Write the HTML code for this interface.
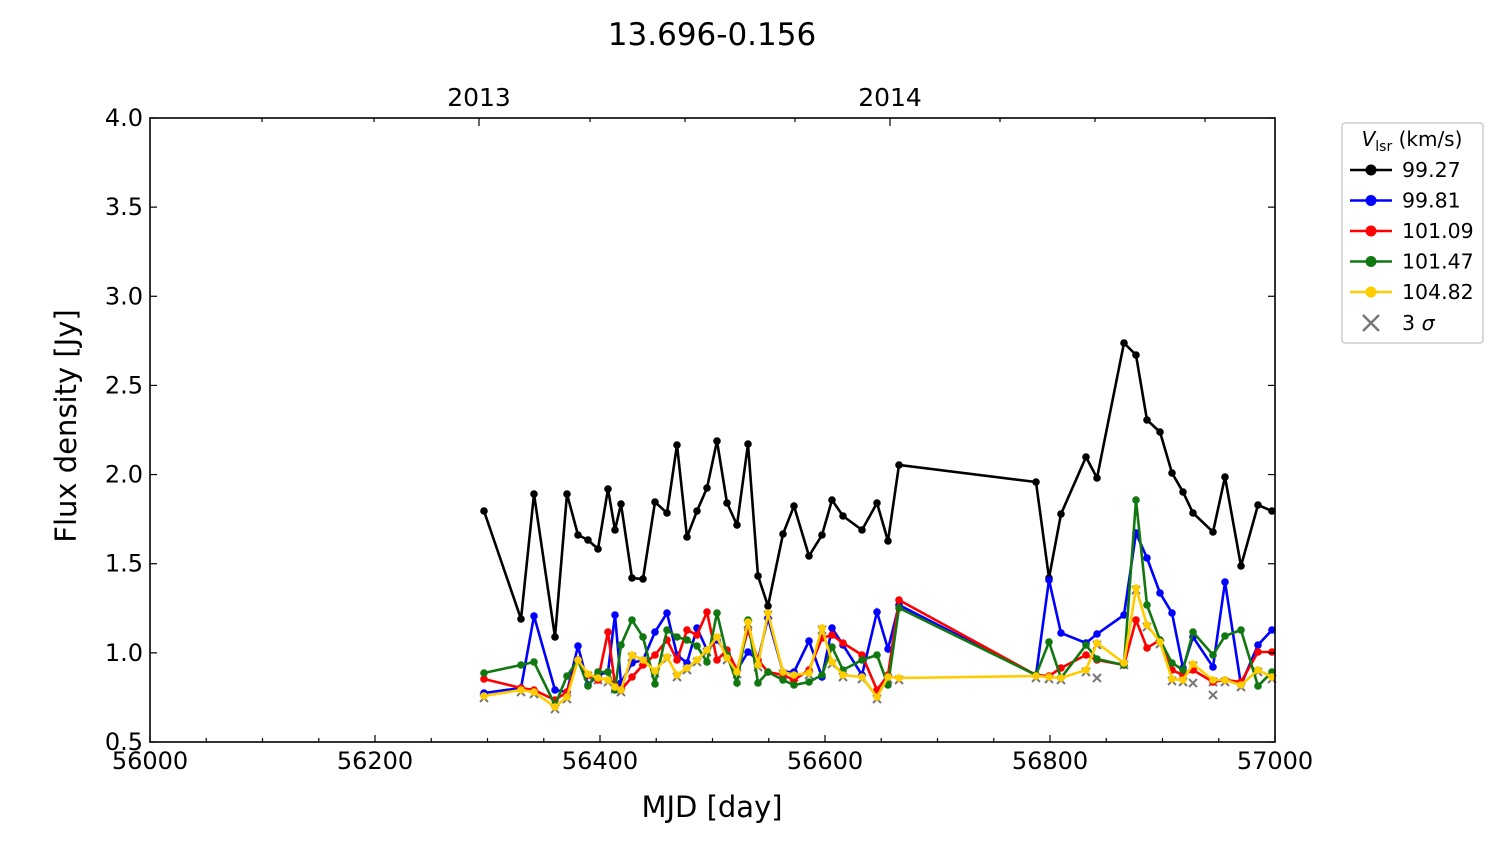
<!DOCTYPE html>
<html><head><meta charset="utf-8"><style>
body{margin:0;background:#fff;}
svg{display:block;font-family:"DejaVu Sans","Liberation Sans",sans-serif;}
</style></head><body>
<svg width="1500" height="844" xmlns="http://www.w3.org/2000/svg" id="s">
<rect width="1500" height="844" fill="#fff"/>
<text x="712" y="45" font-size="31" text-anchor="middle">13.696-0.156</text>
<g id="plot"></g>
<rect x="150" y="118" width="1125" height="624" fill="none" stroke="#000" stroke-width="1.6"/>
<g id="ticks" stroke="#000" stroke-width="1.2"></g>
<g id="labels" font-size="24"></g>
<text x="712" y="817" font-size="29" text-anchor="middle">MJD [day]</text>
<text transform="translate(76,426) rotate(-90)" font-size="29" text-anchor="middle">Flux density [Jy]</text>
<text x="479" y="106" font-size="25" text-anchor="middle">2013</text>
<text x="890" y="106" font-size="25" text-anchor="middle">2014</text>
<g>
<rect x="1342" y="123" width="141" height="220" fill="#fff" stroke="#ccc" stroke-width="1.5" rx="3"/>
<text x="1412" y="146" font-size="20" text-anchor="middle"><tspan font-style="italic">V</tspan><tspan font-size="14" dy="5">lsr</tspan><tspan dy="-5"> (km/s)</tspan></text>
<g font-size="20.5" id="leg"></g>
</g>
</svg>
<script>
const xs=[484,521,534,555,567,578,588,598,608,615,621,632,643,655,667,677,687,697,707,717,727,737,748,758,768,783,794,809,822,832,843,862,877,888,899,1036,1049,1061,1086,1097,1124,1136,1147,1160,1172,1183,1193,1213,1225,1241,1258,1272];
const S={
"#000":[511,619,494,637,494,535,540,549,489,530,504,578,579,502,513,445,537,511,488,441,503,525,444,576,606,534,506,556,535,500,516,530,503,541,465,482,578,514,457,478,343,355,420,432,473,492,513,532,477,566,505,511],
"#0000ff":[693,688,616,690,692,646,685,675,672,615,683,663,660,632,613,655,663,628,650,640,654,670,652,660,618,672,672,641,677,628,645,675,612,649,605,675,580,633,643,634,615,533,558,593,613,668,637,667,582,685,645,630],
"#ff0000":[679,688,690,700,692,660,675,680,632,685,690,677,665,655,640,660,630,635,612,660,650,670,630,660,672,675,680,670,638,635,643,655,690,675,600,675,676,668,655,660,665,620,648,640,670,675,670,682,680,682,652,652],
"#117711":[673,665,662,705,676,660,686,672,672,690,645,620,637,684,630,637,640,646,662,613,655,683,620,683,672,680,685,682,675,647,670,660,655,685,608,675,642,678,645,659,665,500,605,640,663,670,632,655,636,630,686,672],
"#ffcc00":[696,690,692,707,697,660,674,678,680,687,690,655,660,671,657,675,668,660,650,637,658,672,622,665,613,672,675,673,628,662,675,677,697,677,678,676,677,678,670,643,663,588,625,642,679,680,664,680,680,685,670,677]};
const ns="http://www.w3.org/2000/svg";const P=document.getElementById("plot");
function el(t,a,p){const e=document.createElementNS(ns,t);for(const k in a)e.setAttribute(k,a[k]);(p||P).appendChild(e);return e;}
const cx=xs.map((x,i)=>[x,S["#ffcc00"][i]+2]).concat([[1097,678],[1213,695],[1193,683]]);
for(const [x,y] of cx){el("path",{d:`M${x-4} ${y-4}L${x+4} ${y+4}M${x+4} ${y-4}L${x-4} ${y+4}`,stroke:"#777","stroke-width":2});}
for(const c of ["#000","#0000ff","#ff0000","#117711","#ffcc00"]){
 const ys=S[c];el("polyline",{points:xs.map((x,i)=>x+","+ys[i]).join(" "),fill:"none",stroke:c,"stroke-width":2.6});
 xs.forEach((x,i)=>el("circle",{cx:x,cy:ys[i],r:3.8,fill:c}));
}
const T=document.getElementById("ticks"),L=document.getElementById("labels");
for(let v=56000;v<=57000;v+=50){const x=150+(v-56000)*1.125;const big=v%200==0;
 el("line",{x1:x,x2:x,y1:742,y2:742-(big?7:4)},T);
 if(big){const t=el("text",{x:x,y:769,"text-anchor":"middle"},L);t.textContent=v;}}
for(let v=0.5;v<=4.001;v+=0.5){const y=742-(v-0.5)*178.29;el("line",{x1:150,x2:157,y1:y,y2:y},T);el("line",{x1:1275,x2:1268,y1:y,y2:y},T);
 const t=el("text",{x:143,y:y+8,"text-anchor":"end"},L);t.textContent=v.toFixed(1);}
for(const x of [262,374,479,590,685,795,890,1000,1095,1205])el("line",{x1:x,x2:x,y1:118,y2:x==479||x==890?126:122},T);
const G=document.getElementById("leg");
const items=[["#000","99.27"],["#0000ff","99.81"],["#ff0000","101.09"],["#117711","101.47"],["#ffcc00","104.82"]];
items.forEach(([c,t],i)=>{const y=170+i*30.5;el("line",{x1:1350,x2:1392,y1:y,y2:y,stroke:c,"stroke-width":2.6},G);el("circle",{cx:1371,cy:y,r:5.5,fill:c},G);const e=el("text",{x:1402,y:y+7},G);e.textContent=t;});
el("path",{d:"M1363 315L1379 331M1379 315L1363 331",stroke:"#777","stroke-width":2.5},G);
const e=el("text",{x:1402,y:330},G);e.innerHTML='3 <tspan font-style="italic">σ</tspan>';
</script>
</body></html>
